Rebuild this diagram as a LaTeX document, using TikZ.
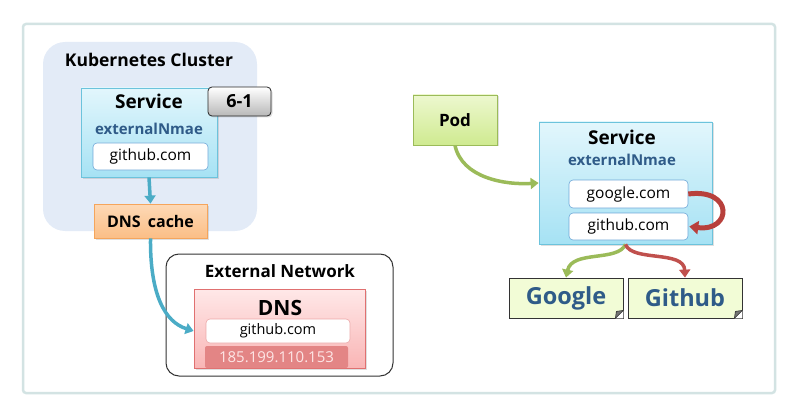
\documentclass[tikz,border=0pt]{standalone}
\usepackage{fontspec}
\setmainfont{Open Sans}
\usetikzlibrary{arrows.meta,shadows,calc}
\definecolor{framec}{HTML}{D3E3E3}
\definecolor{clusterc}{HTML}{E3EBF7}
\definecolor{svctop}{HTML}{E2F6FC}
\definecolor{svcbot}{HTML}{A6E2F4}
\definecolor{svcdraw}{HTML}{6CC3DC}
\definecolor{navy}{HTML}{2F5B88}
\definecolor{arrblue}{HTML}{4BACC6}
\definecolor{arrgreen}{HTML}{9BBB59}
\definecolor{arrred}{HTML}{C0504D}
\definecolor{loopred}{HTML}{B8403C}
\definecolor{podtop}{HTML}{EDF8CF}
\definecolor{podbot}{HTML}{CFEA90}
\definecolor{cachetop}{HTML}{FDD9B6}
\definecolor{cachebot}{HTML}{FBBE86}
\definecolor{cachedraw}{HTML}{F5A55C}
\definecolor{dnstop}{HTML}{FFE8E8}
\definecolor{dnsbot}{HTML}{F9B5B5}
\definecolor{dnsdraw}{HTML}{E07070}
\definecolor{ipfill}{HTML}{E38585}
\definecolor{iptext}{HTML}{FDE6E6}
\definecolor{notefill}{HTML}{F2FCD6}
\definecolor{innerdraw}{HTML}{6FA8D8}
\tikzset{
  shd/.style={drop shadow={opacity=0.25,shadow xshift=1.5pt,shadow yshift=-1.5pt}},
  svcbox/.style={draw=svcdraw,line width=0.8pt,top color=svctop,bottom color=svcbot,inner sep=0pt,shd},
  inbox/.style={draw=innerdraw,line width=0.6pt,fill=white,rounded corners=4pt,inner sep=0pt,font=\fontsize{15.5}{17}\selectfont},
  lbl/.style={inner sep=0pt,font=\bfseries\fontsize{15}{17}\selectfont},
  arr/.style={line width=3.5pt,-{Triangle[length=8pt,width=11pt]}},
  notebox/.style={draw=black!80,line width=0.8pt,fill=notefill,inner sep=0pt,text=navy,font=\bfseries\fontsize{23.5}{26}\selectfont,minimum width=114pt,minimum height=40pt},
}
\begin{document}
\begin{tikzpicture}[x=1pt,y=-1pt]
\useasboundingbox (0,0) rectangle (807,412);
% outer frame
\node[draw=framec,line width=2.5pt,rounded corners=3pt,minimum width=752pt,minimum height=369pt,inner sep=0pt] (frame) at (399,208.5) {};
% cluster
\node[fill=clusterc,rounded corners=22pt,minimum width=214pt,minimum height=189pt,inner sep=0pt] (cluster) at (150,136.5) {};
\node[lbl,font=\bfseries\fontsize{17.5}{20}\selectfont] (ktitle) at (149,60) {Kubernetes Cluster};
% left service
\node[svcbox,minimum width=136pt,minimum height=89pt] (svc1) at (149,132.5) {};
\node[lbl,font=\bfseries\fontsize{19}{21}\selectfont] (svc1t) at (149,101) {Service};
\node[lbl,text=navy,font=\bfseries\fontsize{15}{17}\selectfont] (svc1e) at (149,129) {externalNmae};
\node[inbox,minimum width=115pt,minimum height=27pt] (gh1) at (150.5,156.5) {github.com};
% badge
\node[draw=black!85,line width=0.8pt,rounded corners=4pt,top color=white,bottom color=black!28,minimum width=63pt,minimum height=29pt,inner sep=0pt,font=\bfseries\fontsize{18}{20}\selectfont,shd] (badge) at (239.5,101.5) {6-1};
% dns cache
\node[draw=cachedraw,line width=0.8pt,top color=cachetop,bottom color=cachebot,minimum width=113pt,minimum height=34pt,inner sep=0pt,font=\bfseries\fontsize{16}{18}\selectfont,shd] (cache) at (150.5,221) {DNS\hspace{0.45em}cache};
% external network
\node[draw=black!80,line width=1pt,rounded corners=13pt,fill=white,minimum width=227pt,minimum height=122pt,inner sep=0pt] (ext) at (279.5,315) {};
\node[lbl,font=\bfseries\fontsize{17}{19}\selectfont] (extt) at (280,271) {External Network};
\node[draw=dnsdraw,line width=0.8pt,top color=dnstop,bottom color=dnsbot,minimum width=171pt,minimum height=79pt,inner sep=0pt,shd] (dns) at (279.5,328.5) {};
\node[lbl,font=\bfseries\fontsize{21}{23}\selectfont] (dnst) at (280,308) {DNS};
\node[draw=dnsdraw!60,line width=0.6pt,fill=white,rounded corners=4pt,minimum width=144pt,minimum height=24pt,inner sep=0pt,font=\fontsize{14.5}{16}\selectfont] (dnsgh) at (278,331) {github.com};
\node[fill=ipfill,rounded corners=2pt,minimum width=143pt,minimum height=22pt,inner sep=0pt,text=iptext,font=\fontsize{15}{16}\selectfont] (ip) at (276.5,357) {185.199.110.153};
% left arrows
\draw[arr,arrblue] (svc1.south) -- (cache.north);
\coordinate (dnsin) at (dns.west |- dnsgh.west);
\draw[arr,arrblue] (cache.south) .. controls (150,295) and (165,322) .. (dnsin);
% pod
\node[draw=arrgreen,line width=0.8pt,top color=podtop,bottom color=podbot,minimum width=84pt,minimum height=50pt,inner sep=0pt,font=\bfseries\fontsize{17}{19}\selectfont,shd] (pod) at (455,120) {Pod};
% right service
\node[svcbox,minimum width=173pt,minimum height=122pt] (svc2) at (625.5,183) {};
\node[lbl,font=\bfseries\fontsize{19}{21}\selectfont] (svc2t) at (622,137) {Service};
\node[lbl,text=navy,font=\bfseries\fontsize{15}{17}\selectfont] (svc2e) at (622,160) {externalNmae};
\node[inbox,minimum width=119pt,minimum height=28pt] (goog) at (628.5,194) {google.com};
\node[inbox,minimum width=119pt,minimum height=27pt] (gith) at (628.5,226.5) {github.com};
% notes
\node[notebox] (Google) at (566,298) {Google};
\node[notebox] (Github) at (685,298) {Github};
\foreach \n in {Google,Github}{
  \fill[white] (\n.south east) -- ++(-8,0) -- ++(8,-8) -- cycle;
  \filldraw[fill=black!55,draw=black!80,line width=0.6pt,line join=round] ($(\n.south east)+(-8,0)$) -- ($(\n.south east)+(0,-8)$) -- ($(\n.south east)+(-7,-7)$) -- cycle;
}
% right arrows
\draw[arr,arrgreen] (pod.south) .. controls (462,178) and (505,185) .. (svc2.west);
\draw[loopred,line width=5pt,-{Triangle[length=9pt,width=13pt]}] (goog.east) .. controls (734,188) and (732,232) .. ([xshift=1pt]gith.east);
\draw[arr,arrgreen] (svc2.south) .. controls (618,262) and (572,250) .. (Google.north);
\draw[arr,arrred] (svc2.south) .. controls (632,262) and (684,250) .. (Github.north);
\end{tikzpicture}
\end{document}
